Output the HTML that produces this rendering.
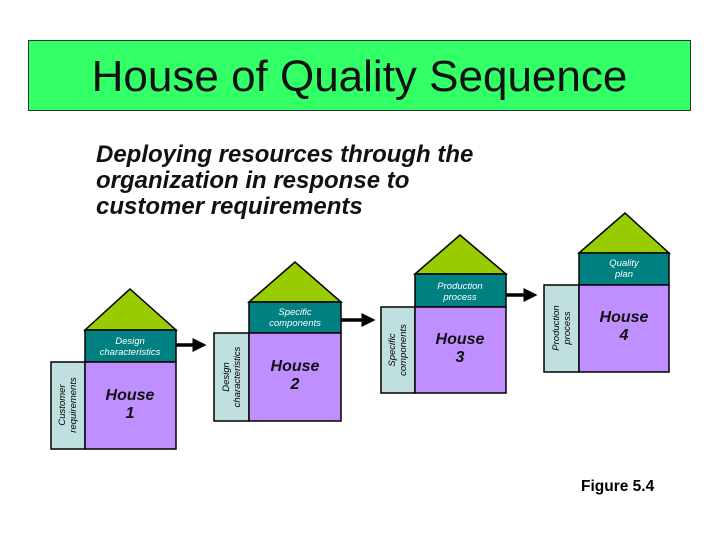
<!DOCTYPE html>
<html><head><style>
body{margin:0;width:720px;height:540px;background:#fff;overflow:hidden;position:relative;font-family:"Liberation Sans",Arial,sans-serif}
#t{position:absolute;left:28px;top:40px;width:663px;height:71px;background:#33ff66;border:1px solid #333;box-sizing:border-box;text-align:center;font-size:44px;line-height:71px;color:#111}
#s{position:absolute;left:96px;top:142px;font-size:24px;font-weight:bold;font-style:italic;line-height:26px;color:#111}
#f{position:absolute;left:581px;top:478px;font-size:15.5px;font-weight:bold;color:#000}
</style></head><body>
<div id="t">House of Quality Sequence</div>
<div id="s">Deploying resources through the<br>organization in response to<br>customer requirements</div>
<svg width="720" height="540" style="position:absolute;left:0;top:0" font-family="Liberation Sans, Arial, sans-serif">
<defs><marker id="a" markerWidth="4" markerHeight="4" refX="3" refY="2" orient="auto"><path d="M0,0L4,2L0,4Z" fill="#000"/></marker></defs>
<g stroke="#000" stroke-width="1.5">
<polygon points="85,330 130,289 176,330" fill="#99cc00"/>
<rect x="85" y="330" width="91" height="32" fill="#008080"/>
<rect x="51" y="362" width="34" height="87" fill="#c0e0e0"/>
<rect x="85" y="362" width="91" height="87" fill="#bf8fff"/>
<polygon points="249,302 295,262 341,302" fill="#99cc00"/>
<rect x="249" y="302" width="92" height="31" fill="#008080"/>
<rect x="214" y="333" width="35" height="88" fill="#c0e0e0"/>
<rect x="249" y="333" width="92" height="88" fill="#bf8fff"/>
<polygon points="415,274 460,235 506,274" fill="#99cc00"/>
<rect x="415" y="274" width="91" height="33" fill="#008080"/>
<rect x="381" y="307" width="34" height="86" fill="#c0e0e0"/>
<rect x="415" y="307" width="91" height="86" fill="#bf8fff"/>
<polygon points="579,253 625,213 669,253" fill="#99cc00"/>
<rect x="579" y="253" width="90" height="32" fill="#008080"/>
<rect x="544" y="285" width="35" height="87" fill="#c0e0e0"/>
<rect x="579" y="285" width="90" height="87" fill="#bf8fff"/>
</g>
<g stroke="#000" stroke-width="3.5" marker-end="url(#a)">
<line x1="176" y1="345" x2="203" y2="345"/>
<line x1="341" y1="320" x2="372" y2="320"/>
<line x1="506" y1="295" x2="534" y2="295"/>
</g>
<g fill="#fff" font-size="9.5" font-style="italic" text-anchor="middle">
<text x="130" y="344">Design</text><text x="130" y="355">characteristics</text>
<text x="295" y="315">Specific</text><text x="295" y="326">components</text>
<text x="460" y="289">Production</text><text x="460" y="300">process</text>
<text x="624" y="266">Quality</text><text x="624" y="277">plan</text>
</g>
<g fill="#000" font-size="9.5" font-style="italic" text-anchor="middle">
<text transform="translate(65,405) rotate(-90)">Customer</text><text transform="translate(76,405) rotate(-90)">requirements</text>
<text transform="translate(229,377) rotate(-90)">Design</text><text transform="translate(240,377) rotate(-90)">characteristics</text>
<text transform="translate(395,350) rotate(-90)">Specific</text><text transform="translate(406,350) rotate(-90)">components</text>
<text transform="translate(559,328) rotate(-90)">Production</text><text transform="translate(570,328) rotate(-90)">process</text>
</g>
<g fill="#111" font-size="16" font-weight="bold" font-style="italic" text-anchor="middle">
<text x="130" y="400">House</text><text x="130" y="418">1</text>
<text x="295" y="371">House</text><text x="295" y="389">2</text>
<text x="460" y="344">House</text><text x="460" y="362">3</text>
<text x="624" y="322">House</text><text x="624" y="340">4</text>
</g>
</svg>
<div id="f">Figure 5.4</div>
</body></html>
